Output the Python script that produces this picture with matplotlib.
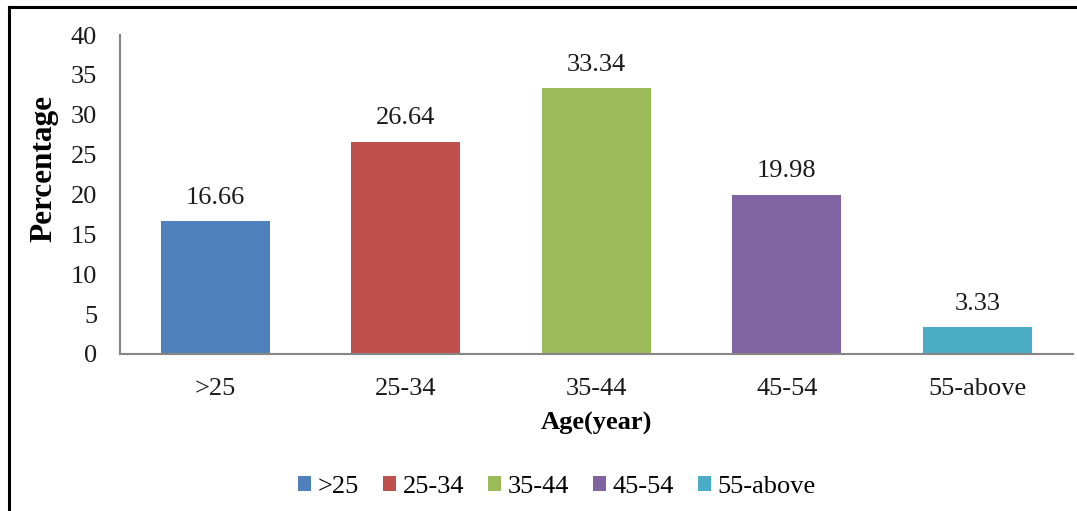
import matplotlib
matplotlib.use("Agg")
import matplotlib.pyplot as plt
from matplotlib.lines import Line2D
from matplotlib.patches import Patch

categories = [">25", "25-34", "35-44", "45-54", "55-above"]
values = [16.66, 26.64, 33.34, 19.98, 3.33]
colors = ["#4F81BD", "#C0504D", "#9BBB59", "#8064A2", "#4BACC6"]
yticks = [0, 5, 10, 15, 20, 25, 30, 35, 40]

plt.rcParams["font.family"] = ["Liberation Serif", "DejaVu Serif"]

W, H = 1077, 511
fig = plt.figure(figsize=(W / 100, H / 100), dpi=100)
ax_left, ax_right, ax_top, ax_bottom = 120, 1072.5, 35, 354
ax = fig.add_axes([ax_left / W, 1 - ax_bottom / H, (ax_right - ax_left) / W,
                   (ax_bottom - ax_top) / H])

x = list(range(len(categories)))
ax.bar(x, values, width=0.572, color=colors, zorder=2)
for xi, v in zip(x, values):
    ax.annotate(f"{v:.2f}", (xi, v), xytext=(0, 9), textcoords="offset points",
                ha="center", va="bottom", fontsize=19, color="#1a1a1a")

ax.set_xlim(-0.5, 4.5)
ax.set_ylim(0, 40)
ax.set_yticks(yticks)
ax.set_xticks(x)
ax.set_xticklabels(categories)
ax.tick_params(axis="both", length=0, labelsize=19, colors="#1a1a1a")
ax.tick_params(axis="x", pad=17)
ax.tick_params(axis="y", pad=16.5)

for s in ["top", "right"]:
    ax.spines[s].set_visible(False)
for s in ["left", "bottom"]:
    ax.spines[s].set_color("#868686")
    ax.spines[s].set_linewidth(1.5)

ax_w = ax_right - ax_left
ax_h = ax_bottom - ax_top
ax.set_ylabel("Percentage", fontsize=22.5, fontweight="bold")
ax.yaxis.set_label_coords(-(ax_left - 58) / ax_w, (ax_bottom - 168) / ax_h)
ax.set_xlabel("Age(year)", fontsize=19, fontweight="bold")
ax.xaxis.set_label_coords(0.5, -(412 - ax_bottom) / ax_h)

handles = [Patch(facecolor=c, edgecolor="none") for c in colors]
fig.legend(handles, categories, loc="center", bbox_to_anchor=(557 / W, 1 - 487 / H),
           ncol=5, frameon=False, fontsize=19, handlelength=0.5, handleheight=0.5,
           handletextpad=0.25, columnspacing=0.9)

# frame lines along the top and left edge
fig.add_artist(Line2D([8.5 / W, 1], [1 - 7 / H, 1 - 7 / H], transform=fig.transFigure,
                      color="black", linewidth=2.2))
fig.add_artist(Line2D([8.5 / W, 8.5 / W], [0, 1 - 7 / H], transform=fig.transFigure,
                      color="black", linewidth=2.2))

fig.savefig("out.png", dpi=100)
